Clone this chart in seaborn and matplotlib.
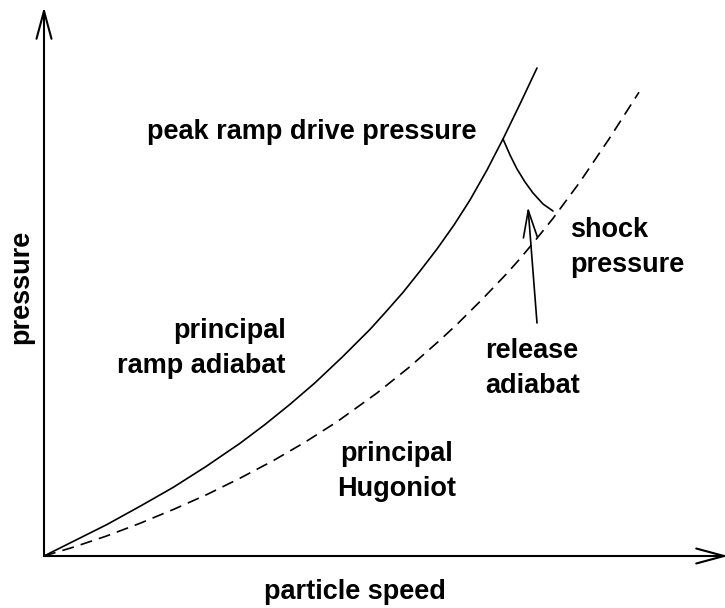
import matplotlib
matplotlib.use("Agg")
import matplotlib.pyplot as plt
import seaborn as sns
import pandas as pd

# Data (arbitrary units: particle speed vs pressure)
ramp_speed = [0, 30, 63, 96, 129, 162, 196, 221, 246, 271, 298, 326, 342,
              359, 376, 393, 410, 426, 443, 459, 476, 493]
ramp_pressure = [0, 15, 31.5, 49.7, 68.5, 89.5, 112.7, 131.5, 151.7, 173.2,
                 198.7, 226.6, 244.3, 263.6, 284.9, 307, 331, 356, 386, 417,
                 452, 488]
hug_speed = [0, 29, 62, 96, 130, 163, 196, 229, 261, 293, 333, 365, 396, 413,
             438, 463, 476, 492, 509, 536, 565, 595]
hug_pressure = [0, 8.7, 19.8, 32.7, 46.8, 61.5, 77.8, 95.2, 113.8, 134.2, 163,
                188.6, 215.9, 231.7, 256.5, 282.7, 297.3, 316.5, 337.6, 374.1,
                417, 463.8]
release_speed = [459, 466, 473, 481, 489, 499, 509]
release_pressure = [417, 401, 387, 374, 363, 352, 345]

x_label = "particle speed"
y_label = "pressure"

sns.set_style("white")
plt.rcParams['font.family'] = ['Liberation Sans', 'DejaVu Sans']

fig = plt.figure(figsize=(7.25, 6.08), dpi=100)
ax = fig.add_axes([0, 0, 1, 1])

ramp = pd.DataFrame({"speed": ramp_speed, "pressure": ramp_pressure})
hug = pd.DataFrame({"speed": hug_speed, "pressure": hug_pressure})
rel = pd.DataFrame({"speed": release_speed, "pressure": release_pressure})

sns.lineplot(data=ramp, x="speed", y="pressure", ax=ax, sort=False,
             estimator=None, color="black", lw=1.2)
sns.lineplot(data=hug, x="speed", y="pressure", ax=ax, sort=False,
             estimator=None, color="black", lw=1.2, linestyle=(0, (7.2, 4.3)))
sns.lineplot(data=rel, x="speed", y="pressure", ax=ax, sort=False,
             estimator=None, color="black", lw=1.2)

ax.set_xlim(-44, 681)
ax.set_ylim(-52, 556)
ax.axis("off")

# axes with open arrowheads
axis_arrow = dict(arrowstyle="->,head_length=20,head_width=5.4", lw=1.5,
                  color="black", shrinkA=0, shrinkB=0, mutation_scale=1)
ax.annotate("", xy=(0, 549), xytext=(0, 0), arrowprops=axis_arrow,
            annotation_clip=False)
ax.annotate("", xy=(684, 0), xytext=(0, 0), arrowprops=axis_arrow,
            annotation_clip=False)

# release adiabat pointer
ax.annotate("", xy=(484, 349), xytext=(493, 233),
            arrowprops=dict(arrowstyle="->,head_length=19.5,head_width=5",
                            lw=1.2, color="black", shrinkA=0, shrinkB=0,
                            mutation_scale=1), annotation_clip=False)

fs = 19.5
tk = dict(fontsize=fs, fontweight="bold", color="black", linespacing=1.42)
ax.text(267.5, 424, "peak ramp drive pressure", ha="center", va="center", **tk)
ax.text(242, 207.5, "principal\nramp adiabat", ha="right", va="center",
        multialignment="right", **tk)
ax.text(353, 84.5, "principal\nHugoniot", ha="center", va="center",
        multialignment="center", **tk)
ax.text(526, 308.5, "shock\npressure", ha="left", va="center",
        multialignment="left", **tk)
ax.text(441, 187.5, "release\nadiabat", ha="left", va="center",
        multialignment="left", **tk)
ax.text(-23, 269, y_label, ha="center", va="center", rotation=90, **tk)
ax.text(311, -36, x_label, ha="center", va="center", **tk)

fig.savefig("out.png", dpi=100)
